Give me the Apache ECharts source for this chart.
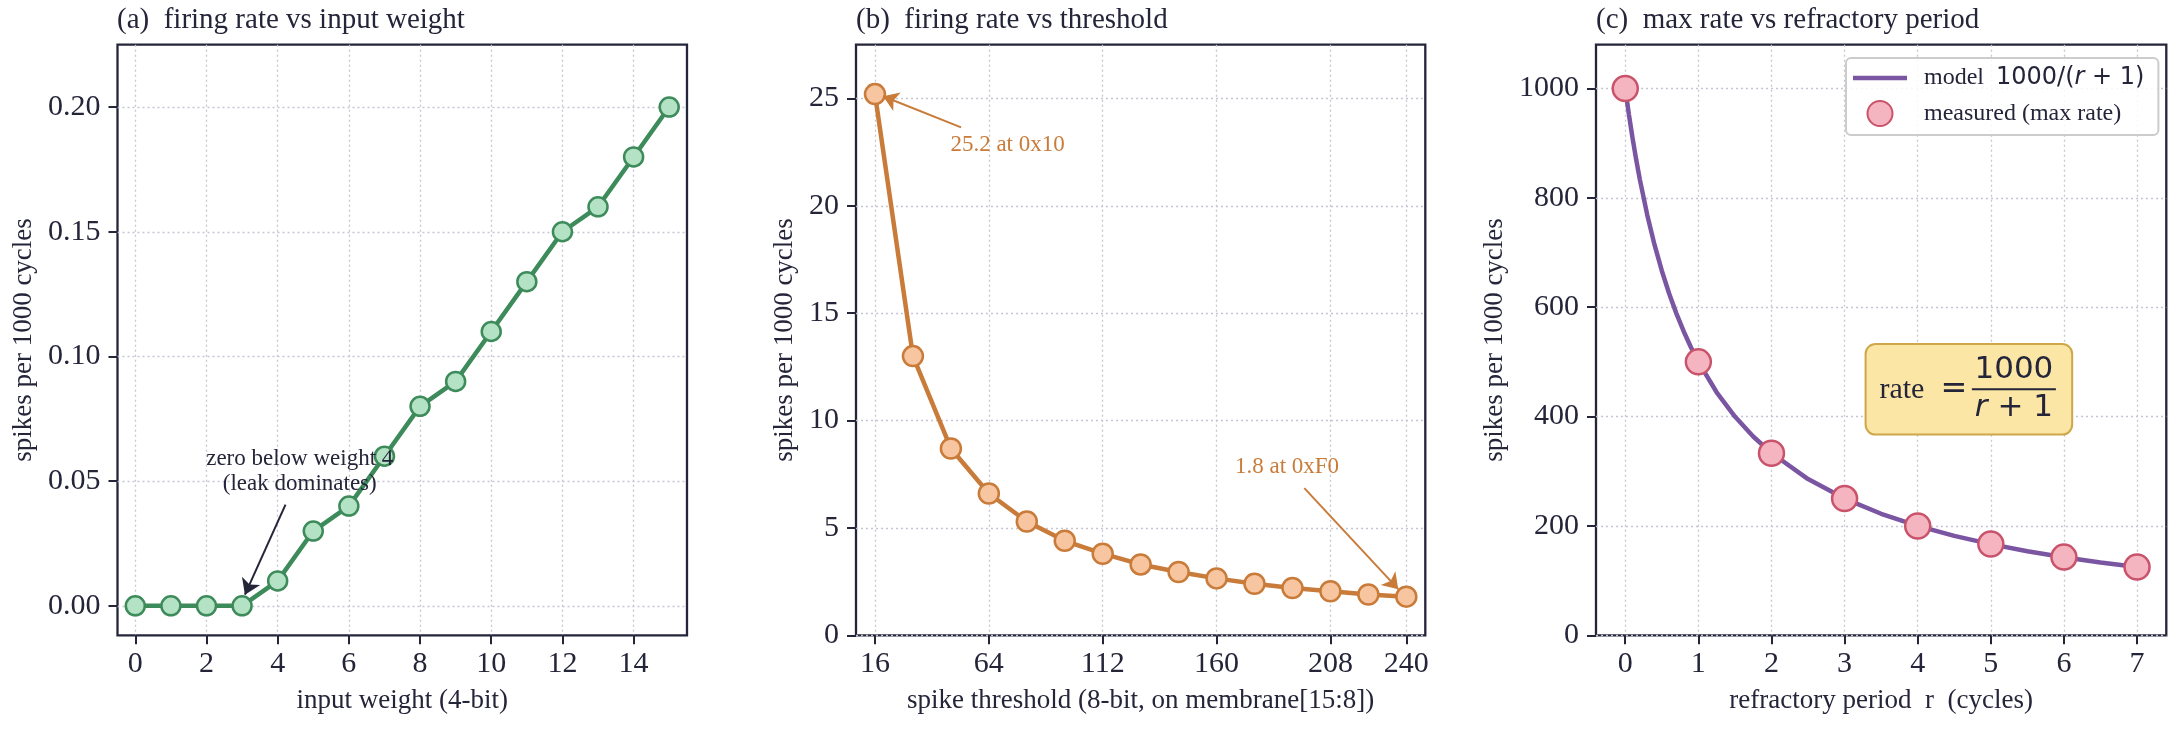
<!DOCTYPE html>
<html>
<head>
<meta charset="utf-8">
<script src="https://cdn.jsdelivr.net/npm/echarts@6/dist/echarts.min.js"></script>
<style>
html, body { margin: 0; padding: 0; background: #fff; }
#chart { width: 2172px; height: 729px; }
</style>
</head>
<body>
<div id="chart"></div>
<script>
var dom = document.getElementById("chart");
var myChart = echarts.init(dom);

// (a) firing rate vs input weight
var weights = [0, 1, 2, 3, 4, 5, 6, 7, 8, 9, 10, 11, 12, 13, 14, 15];
var rateByWeight = [0, 0, 0, 0, 0.01, 0.03, 0.04, 0.06, 0.08, 0.09, 0.11, 0.13, 0.15, 0.16, 0.18, 0.20];
var weightTicks = [0, 2, 4, 6, 8, 10, 12, 14];
var weightRateTicks = [0, 0.05, 0.10, 0.15, 0.20];

// (b) firing rate vs threshold
var thresholds = [16, 32, 48, 64, 80, 96, 112, 128, 144, 160, 176, 192, 208, 224, 240];
var rateByThreshold = [25.2, 13.0, 8.7, 6.6, 5.3, 4.4, 3.8, 3.3, 2.95, 2.65, 2.4, 2.2, 2.05, 1.9, 1.8];
var thresholdTicks = [16, 64, 112, 160, 208, 240];
var thresholdRateTicks = [0, 5, 10, 15, 20, 25];

// (c) max rate vs refractory period
var refractory = [0, 1, 2, 3, 4, 5, 6, 7];
var measuredRate = [1000, 500, 333, 250, 200, 167, 143, 125];
var modelR = [0, 0.05, 0.1, 0.15, 0.2, 0.3, 0.4, 0.5, 0.6, 0.7, 0.8, 0.9, 1, 1.25, 1.5, 1.75, 2, 2.5, 3, 3.5, 4, 4.5, 5, 5.5, 6, 6.5, 7];
var modelRate = [1000, 952.4, 909.1, 869.6, 833.3, 769.2, 714.3, 666.7, 625, 588.2, 555.6, 526.3, 500, 444.4, 400, 363.6, 333.3, 285.7, 250, 222.2, 200, 181.8, 166.7, 153.8, 142.9, 133.3, 125];
var refractoryTicks = [0, 1, 2, 3, 4, 5, 6, 7];
var refractoryRateTicks = [0, 200, 400, 600, 800, 1000];

var serif = "'Liberation Serif', 'Times New Roman', serif";
var mathFont = "'DejaVu Sans', sans-serif";
var ink = '#25253a';
var gridColor = '#c5c5d3';

function pairs(xs, ys) {
    return xs.map(function (x, i) { return [x, ys[i]]; });
}

function makeX(gridIndex, min, max, ticks, name) {
    return {
        type: 'value', gridIndex: gridIndex, min: min, max: max,
        name: name, nameLocation: 'middle', nameGap: 52,
        nameTextStyle: { fontFamily: serif, fontSize: 27, color: ink },
        axisLine: { show: false, onZero: false },
        axisTick: { show: true, inside: false, length: 9, customValues: ticks, lineStyle: { color: ink, width: 2 } },
        axisLabel: { customValues: ticks, margin: 14, fontFamily: serif, fontSize: 30, color: ink },
        splitLine: { show: true, lineStyle: { color: gridColor, type: [2, 3], width: 1.3 } }
    };
}

function makeY(gridIndex, min, max, ticks, gap, fmt) {
    return {
        type: 'value', gridIndex: gridIndex, min: min, max: max,
        name: 'spikes per 1000 cycles', nameLocation: 'middle', nameGap: gap, nameRotate: 90,
        nameTextStyle: { fontFamily: serif, fontSize: 27, color: ink },
        axisLine: { show: false, onZero: false },
        axisTick: { show: true, inside: false, length: 9, customValues: ticks, lineStyle: { color: ink, width: 2 } },
        axisLabel: { customValues: ticks, margin: 17, fontFamily: serif, fontSize: 30, color: ink, formatter: fmt },
        splitLine: { show: true, lineStyle: { color: gridColor, type: [2, 3], width: 1.3 } }
    };
}

function textMark(x, y, text, color) {
    return {
        coord: [x, y], value: text,
        symbol: 'circle', symbolSize: 1, itemStyle: { color: 'rgba(0,0,0,0)' },
        label: { show: true, position: 'inside', formatter: text, fontFamily: serif, fontSize: 23, lineHeight: 25, color: color, align: 'center' }
    };
}

function arrow(x1, y1, x2, y2) {
    return [{ coord: [x1, y1] }, { coord: [x2, y2] }];
}

option = {
    backgroundColor: '#fff',
    animation: false,
    title: [
        { text: '(a)  firing rate vs input weight', left: 117, top: 6, padding: 0,
          textStyle: { fontFamily: serif, fontSize: 29, fontWeight: 'normal', color: ink } },
        { text: '(b)  firing rate vs threshold', left: 856, top: 6, padding: 0,
          textStyle: { fontFamily: serif, fontSize: 29, fontWeight: 'normal', color: ink } },
        { text: '(c)  max rate vs refractory period', left: 1596, top: 6, padding: 0,
          textStyle: { fontFamily: serif, fontSize: 29, fontWeight: 'normal', color: ink } }
    ],
    legend: {
        data: [
            { name: 'model', icon: 'path://M0,0 L54,0 L54,4.5 L0,4.5 Z' },
            { name: 'measured' }
        ],
        orient: 'vertical', left: 1846, top: 58,
        padding: [8, 14, 8, 7], itemWidth: 54, itemHeight: 25, itemGap: 10,
        backgroundColor: 'rgba(255,255,255,0.85)', borderColor: '#cccccc', borderWidth: 2, borderRadius: 5,
        textStyle: {
            fontFamily: serif, fontSize: 24, color: ink, padding: [0, 0, 0, 12],
            rich: {
                t: { fontFamily: serif, fontSize: 24, color: ink },
                m: { fontFamily: mathFont, fontSize: 24, color: ink },
                i: { fontFamily: mathFont, fontSize: 24, fontStyle: 'italic', color: ink }
            }
        },
        formatter: function (name) {
            if (name === 'model') return '{t|model}  {m|1000/(}{i|r}{m| + 1)}';
            return '{t|measured (max rate)}';
        }
    },
    grid: [
        { left: 117.5, top: 44.7, width: 569.5, height: 590.6, show: true, borderColor: ink, borderWidth: 2.3 },
        { left: 856, top: 44.7, width: 569.3, height: 590.6, show: true, borderColor: ink, borderWidth: 2.3 },
        { left: 1596, top: 44.7, width: 570.3, height: 590.6, show: true, borderColor: ink, borderWidth: 2.3 }
    ],
    xAxis: [
        makeX(0, -0.5, 15.5, weightTicks, 'input weight (4-bit)'),
        makeX(1, 8, 248, thresholdTicks, 'spike threshold (8-bit, on membrane[15:8])'),
        makeX(2, -0.4, 7.4, refractoryTicks, 'refractory period  r  (cycles)')
    ],
    yAxis: [
        makeY(0, -0.0118, 0.225, weightRateTicks, 80, function (v) { return v.toFixed(2); }),
        makeY(1, 0, 27.5, thresholdRateTicks, 58, function (v) { return String(v); }),
        makeY(2, 0, 1080, refractoryRateTicks, 88, function (v) { return String(v); })
    ],
    series: [
        {
            type: 'line', xAxisIndex: 0, yAxisIndex: 0,
            data: pairs(weights, rateByWeight),
            symbol: 'circle', symbolSize: 19,
            lineStyle: { color: '#3d8b5a', width: 4.5 },
            itemStyle: { color: '#b4e2c4', borderColor: '#3d8b5a', borderWidth: 2.5 },
            markLine: {
                silent: true, symbol: ['none', 'arrow'], symbolSize: 15,
                lineStyle: { color: ink, width: 2, type: 'solid' },
                label: { show: false },
                data: [arrow(4.22, 0.0406, 3.08, 0.0045)]
            },
            markPoint: {
                silent: true,
                data: [textMark(4.62, 0.0538, 'zero below weight 4\n(leak dominates)', ink)]
            }
        },
        {
            type: 'line', xAxisIndex: 1, yAxisIndex: 1,
            data: pairs(thresholds, rateByThreshold),
            symbol: 'circle', symbolSize: 20,
            lineStyle: { color: '#c97b3a', width: 4.5 },
            itemStyle: { color: '#f7c59f', borderColor: '#c97b3a', borderWidth: 2.5 },
            markLine: {
                silent: true, symbol: ['none', 'arrow'], symbolSize: 15,
                lineStyle: { color: '#c97b3a', width: 2, type: 'solid' },
                label: { show: false },
                data: [arrow(52.3, 23.65, 19.4, 25.1), arrow(197, 6.85, 236.6, 2.15)]
            },
            markPoint: {
                silent: true,
                data: [
                    textMark(71.9, 22.84, '25.2 at 0x10', '#c97b3a'),
                    textMark(189.7, 7.85, '1.8 at 0xF0', '#c97b3a')
                ]
            }
        },
        {
            name: 'model',
            type: 'line', xAxisIndex: 2, yAxisIndex: 2,
            data: pairs(modelR, modelRate),
            symbol: 'none', smooth: false,
            lineStyle: { color: '#7a56a2', width: 4.5 },
            itemStyle: { color: '#7a56a2' },
            z: 2
        },
        {
            name: 'measured',
            type: 'scatter', xAxisIndex: 2, yAxisIndex: 2,
            data: pairs(refractory, measuredRate),
            symbol: 'circle', symbolSize: 25,
            itemStyle: { color: '#f5b5c0', borderColor: '#c9536b', borderWidth: 2.5, opacity: 1 },
            z: 3
        }
    ]
};

if (option && typeof option === "object") {
    myChart.setOption(option, true);
}

// formula box in panel (c), placed from data coordinates
var c = myChart.convertToPixel({ gridIndex: 2 }, [4.7, 450]);
myChart.setOption({
    graphic: [{
        type: 'group', x: c[0], y: c[1], z: 100,
        children: [
            { type: 'rect', shape: { x: -103.3, y: -45.3, width: 206.6, height: 90.7, r: 10 },
              style: { fill: '#fbe6a6', stroke: '#cfa64a', lineWidth: 2 } },
            { type: 'text', x: -67, y: 1, style: { text: 'rate', font: "30px 'Liberation Serif'", fill: ink, align: 'center', verticalAlign: 'middle' } },
            { type: 'text', x: -15, y: 0, style: { text: '=', font: "32px 'DejaVu Sans'", fill: ink, align: 'center', verticalAlign: 'middle' } },
            { type: 'text', x: 45, y: -19, style: { text: '1000', font: "31px 'DejaVu Sans'", fill: ink, align: 'center', verticalAlign: 'middle' } },
            { type: 'line', shape: { x1: 3, y1: 0, x2: 87, y2: 0 }, style: { stroke: ink, lineWidth: 2 } },
            { type: 'text', x: 45, y: 19, style: {
                text: '{i|r} + 1', align: 'center', verticalAlign: 'middle', fill: ink,
                font: "31px 'DejaVu Sans'",
                rich: { i: { font: "italic 31px 'DejaVu Sans'", fill: ink } }
            } }
        ]
    }]
});
</script>
</body>
</html>
